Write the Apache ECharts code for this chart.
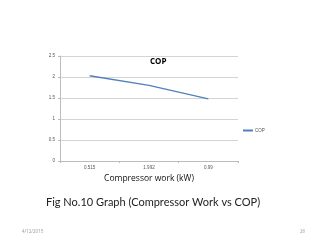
<!DOCTYPE html>
<html>
<head>
    <meta charset="UTF-8">
    <title>Compressor Work vs COP</title>
    <style>
        body { margin: 0; padding: 0; background: #fff; }
        #chart { width: 320px; height: 240px; }
    </style>
    <script src="https://cdn.jsdelivr.net/npm/echarts@6/dist/echarts.min.js"></script>
</head>
<body>
    <div id="chart"></div>
    <script>
        // data
        var categories = ['0.515', '1.992', '0.99'];
        var copValues = [2.03, 1.8, 1.48];
        var yTicks = { min: 0, max: 2.5, interval: 0.5 };

        var myChart = echarts.init(document.getElementById('chart'));
        var option = {
            animation: false,
            backgroundColor: '#fff',
            title: [
                {
                    text: 'COP',
                    left: 145, top: 53,
                    textStyle: { fontSize: 8, fontWeight: 'bold', color: '#000', fontFamily: 'Open Sans' }
                },
                {
                    text: 'Fig No.10 Graph (Compressor Work vs COP)',
                    left: 41, top: 192,
                    textStyle: { fontSize: 11, fontWeight: 'normal', color: '#222', fontFamily: 'Lato' }
                },
                {
                    text: '4/12/2015',
                    left: 17, top: 224,
                    textStyle: { fontSize: 4.5, fontWeight: 'normal', color: '#999', fontFamily: 'Open Sans' }
                },
                {
                    text: '26',
                    left: 295, top: 224,
                    textStyle: { fontSize: 4.5, fontWeight: 'normal', color: '#999', fontFamily: 'Open Sans' }
                }
            ],
            legend: {
                data: ['COP'],
                left: 238, top: 123,
                itemWidth: 10, itemHeight: 2, itemGap: 2,
                icon: 'rect',
                textStyle: { fontSize: 4.5, color: '#555', padding: [0, 0, 0, -3] }
            },
            grid: { left: 60, right: 82, top: 56, bottom: 79 },
            xAxis: {
                type: 'category',
                data: categories,
                name: 'Compressor work (kW)',
                nameLocation: 'middle',
                nameGap: 13,
                nameTextStyle: { fontSize: 8.5, color: '#111', fontFamily: 'Open Sans' },
                axisLine: { lineStyle: { color: '#bbb' } },
                axisTick: { show: true, length: 2, lineStyle: { color: '#bbb' } },
                axisLabel: { fontSize: 4.5, color: '#555', margin: 4 }
            },
            yAxis: {
                type: 'value',
                min: yTicks.min, max: yTicks.max, interval: yTicks.interval,
                axisLine: { show: true, lineStyle: { color: '#bbb' } },
                axisTick: { show: true, length: 2, lineStyle: { color: '#bbb' } },
                axisLabel: { fontSize: 4.5, color: '#555', margin: 5 },
                splitLine: { lineStyle: { color: '#d4d4d4' } }
            },
            series: [
                {
                    name: 'COP',
                    type: 'line',
                    data: copValues,
                    showSymbol: false,
                    symbol: 'none',
                    lineStyle: { color: '#4F81BD', width: 1.3 },
                    itemStyle: { color: '#4F81BD' }
                }
            ]
        };
        myChart.setOption(option);
    </script>
</body>
</html>
